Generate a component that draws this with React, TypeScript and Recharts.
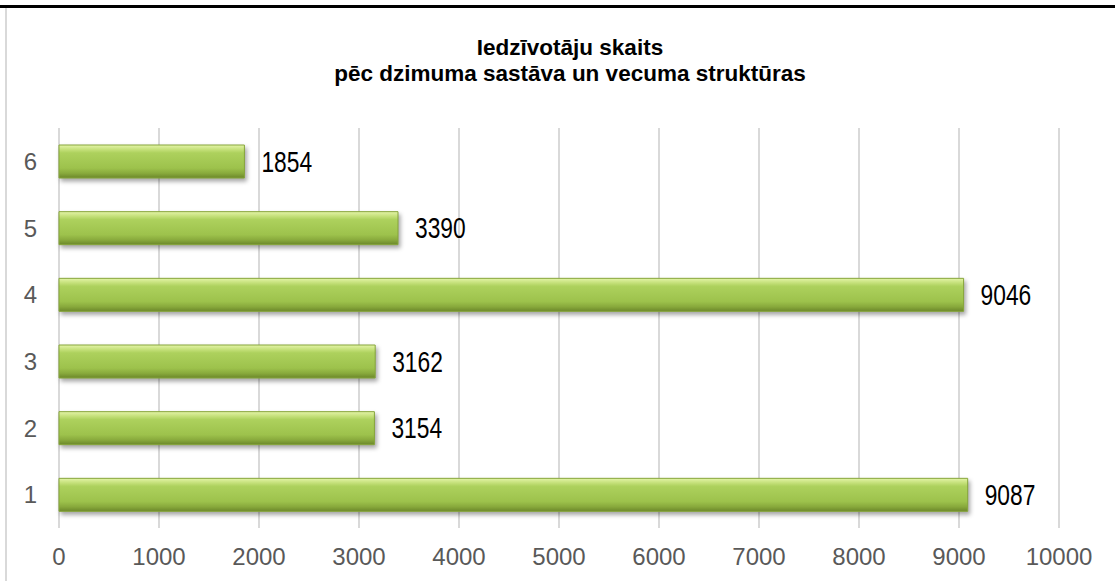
import { BarChart, Bar, XAxis, YAxis, CartesianGrid, LabelList } from 'recharts';

const groups = ['1', '2', '3', '4', '5', '6'];
const residents = [9087, 3154, 3162, 9046, 3390, 1854];
const xTicks = [0, 1000, 2000, 3000, 4000, 5000, 6000, 7000, 8000, 9000, 10000];
const titleLines = ['Iedzīvotāju skaits', 'pēc dzimuma sastāva un vecuma struktūras'];

// top row is group 6, so feed the rows in reverse
const chartData = groups.map((g, i) => ({ group: g, count: residents[i] })).reverse();

const W = 1115;
const H = 581;

// narrow-looking value label (no Arial Narrow installed, so squeeze it)
const ValueLabel = (props: any) => {
  const { x, y, width, height, value } = props;
  const tx = Math.max(x, x + width) + 17;
  const ty = y + height / 2;
  return (
    <text
      transform={`translate(${tx},${ty}) scale(0.76,1)`}
      dominantBaseline="central"
      fill="#000"
      fontSize={30}
      fontFamily='"Liberation Sans", Arial, sans-serif'
    >
      {value}
    </text>
  );
};

export default function App() {
  return (
    <div style={{ position: 'absolute', left: 0, top: 0, width: W, height: H, background: '#fff', overflow: 'hidden' }}>
      <style>{'.recharts-bar-rectangle path { filter: drop-shadow(2px 3px 2px rgba(0,0,0,0.35)); }'}</style>
      {/* gradient lives outside the chart svg, the bars only reference it */}
      <svg width={0} height={0} style={{ position: 'absolute' }}>
        <defs>
          <linearGradient id="bevelGreen" x1="0" y1="0" x2="0" y2="1">
            <stop offset="0%" stopColor="#e4f4a8" />
            <stop offset="14%" stopColor="#c4e079" />
            <stop offset="24%" stopColor="#add15d" />
            <stop offset="70%" stopColor="#9dc24c" />
            <stop offset="86%" stopColor="#88a93c" />
            <stop offset="100%" stopColor="#6b872a" />
          </linearGradient>
        </defs>
      </svg>
      <div style={{ position: 'absolute', left: 0, top: 5, width: W, height: 3, background: '#000' }} />
      <div style={{ position: 'absolute', left: 5, top: 8, width: 2, height: H, background: '#d9d9d9' }} />
      <div
        style={{
          position: 'absolute', left: 0, top: 35, width: 1140, textAlign: 'center',
          fontFamily: '"Liberation Sans", Arial, sans-serif',
          fontWeight: 'bold', fontSize: 22.5, lineHeight: '26px', color: '#000',
        }}
      >
        {titleLines.map((t) => <div key={t}>{t}</div>)}
      </div>
      <BarChart
        width={W}
        height={H}
        data={chartData}
        layout="vertical"
        margin={{ top: 128, right: 56, bottom: 0, left: 0 }}
        barSize={33}
      >
        <CartesianGrid horizontal={false} stroke="#d9d9d9" strokeWidth={2} />
        <XAxis
          type="number"
          domain={[0, 10000]}
          ticks={xTicks}
          interval={0}
          height={53}
          axisLine={false}
          tickLine={false}
          tickMargin={14}
          tick={{ fill: '#595959', fontSize: 24, fontFamily: '"Liberation Sans", Arial, sans-serif' }}
        />
        <YAxis
          type="category"
          dataKey="group"
          width={59}
          axisLine={false}
          tickLine={false}
          tickMargin={16}
          tick={{ fill: '#595959', fontSize: 24, fontFamily: '"Liberation Sans", Arial, sans-serif' }}
        />
        <Bar dataKey="count" fill="url(#bevelGreen)" stroke="#86a53a" strokeWidth={1} isAnimationActive={false}>
          <LabelList dataKey="count" content={<ValueLabel />} />
        </Bar>
      </BarChart>
    </div>
  );
}
